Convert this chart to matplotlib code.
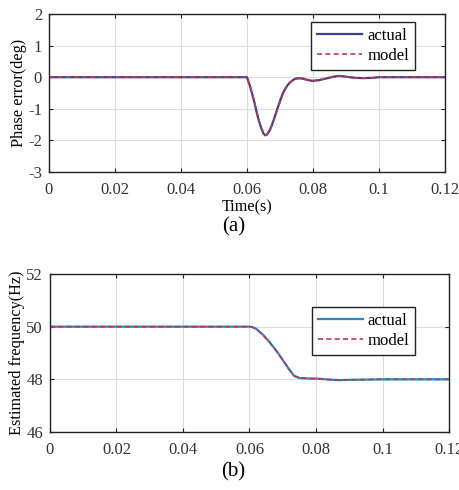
import matplotlib
matplotlib.use('Agg')
import matplotlib.pyplot as plt
import numpy as np

# phase error (deg) vs time (s)
t_phase = [0, 0.02, 0.04, 0.06, 0.0608, 0.0615, 0.0622, 0.0628, 0.0636, 0.0644, 0.065, 0.0655,
           0.066, 0.0668, 0.0676, 0.0684, 0.0692, 0.070, 0.0709, 0.0717, 0.0724, 0.073,
           0.0738, 0.0746, 0.0755, 0.0765, 0.0775, 0.0785, 0.080, 0.082, 0.084, 0.086,
           0.0875, 0.089, 0.091, 0.093, 0.095, 0.098, 0.1, 0.11, 0.12]
phase_actual = [0, 0, 0, 0, -0.25, -0.5, -0.78, -1.05, -1.38, -1.64, -1.78, -1.84,
                -1.82, -1.7, -1.5, -1.25, -1.0, -0.75, -0.5, -0.34, -0.24, -0.17,
                -0.1, -0.05, -0.03, -0.04, -0.06, -0.09, -0.12, -0.09, -0.04, 0.01,
                0.04, 0.03, 0.0, -0.02, -0.03, -0.02, 0, 0, 0]
phase_model = [0, 0, 0, 0, -0.24, -0.49, -0.77, -1.04, -1.37, -1.63, -1.77, -1.83,
               -1.82, -1.71, -1.51, -1.27, -1.03, -0.78, -0.53, -0.36, -0.25, -0.17,
               -0.1, -0.06, -0.04, -0.05, -0.07, -0.09, -0.11, -0.08, -0.04, 0.01,
               0.04, 0.03, 0.0, -0.02, -0.03, -0.02, 0, 0, 0]

# estimated frequency (Hz) vs time (s)
t_freq = [0, 0.02, 0.04, 0.06, 0.0607, 0.062, 0.064, 0.066, 0.068, 0.070, 0.072,
          0.0735, 0.075, 0.078, 0.080, 0.084, 0.087, 0.090, 0.1, 0.11, 0.12]
freq_actual = [50, 50, 50, 50, 49.99, 49.92, 49.7, 49.42, 49.1, 48.74, 48.36,
               48.12, 48.05, 48.03, 48.03, 47.99, 47.97, 47.98, 48.0, 48.0, 48.0]
freq_model = [50, 50, 50, 50, 49.99, 49.91, 49.69, 49.41, 49.09, 48.73, 48.37,
              48.13, 48.06, 48.03, 48.02, 47.99, 47.97, 47.98, 48.0, 48.0, 48.0]

xticks = [0, 0.02, 0.04, 0.06, 0.08, 0.1, 0.12]
xticklabels = ['0', '0.02', '0.04', '0.06', '0.08', '0.1', '0.12']

plt.rcParams['font.family'] = ['Liberation Serif', 'DejaVu Serif']
plt.rcParams['font.size'] = 12
plt.rcParams['axes.unicode_minus'] = False

fig = plt.figure(figsize=(4.6, 4.9), dpi=100)
ax1 = fig.add_axes([49/460, 1 - 172/490, 396/460, 158/490])
ax2 = fig.add_axes([50/460, 1 - 432/490, 399/460, 158/490])


def style_axes(ax):
    ax.set_xlim(0, 0.12)
    ax.set_xticks(xticks)
    ax.set_xticklabels(xticklabels)
    ax.grid(True, color='#dcdcdc', linewidth=0.8)
    ax.set_axisbelow(True)
    ax.tick_params(direction='in', top=True, right=True, length=3, width=0.8,
                   colors='#222222', labelcolor='#333333', pad=5)
    ax.tick_params(axis='x', pad=7)
    for s in ax.spines.values():
        s.set_color('#222222')
        s.set_linewidth(1.0)


def add_legend(ax, anchor):
    leg = ax.legend(loc='upper right', bbox_to_anchor=anchor, fancybox=False,
                    edgecolor='#222222', framealpha=1, handlelength=2.7,
                    borderpad=0.35, labelspacing=0.25, handletextpad=0.3,
                    borderaxespad=0)
    leg.get_frame().set_linewidth(1.0)
    return leg


ax1.plot(t_phase, phase_actual, color='#3c3f8c', linewidth=1.6, label='actual')
ax1.plot(t_phase, phase_model, color='#c0394b', linewidth=1.2, linestyle='--',
         dashes=(3, 2), label='model')
ax1.set_ylim(-3, 2)
ax1.set_yticks([-3, -2, -1, 0, 1, 2])
style_axes(ax1)
ax1.set_ylabel('Phase error(deg)', fontsize=11.7, labelpad=1)
ax1.set_xlabel('Time(s)', fontsize=11.7, labelpad=1)
add_legend(ax1, (0.924, 0.949))
fig.text(234/460, 1 - 227/490, '(a)', ha='center', va='center', fontsize=15)

ax2.plot(t_freq, freq_actual, color='#2a86c8', linewidth=1.6, label='actual')
ax2.plot(t_freq, freq_model, color='#b83a4a', linewidth=1.2, linestyle='--',
         dashes=(3, 2), label='model')
ax2.set_ylim(46, 52)
ax2.set_yticks([46, 48, 50, 52])
style_axes(ax2)
ax2.set_ylabel('Estimated frequency(Hz)', fontsize=11.7, labelpad=1)
add_legend(ax2, (0.915, 0.791))
fig.text(233/460, 1 - 472/490, '(b)', ha='center', va='center', fontsize=15)

fig.savefig('out.png', dpi=100)
